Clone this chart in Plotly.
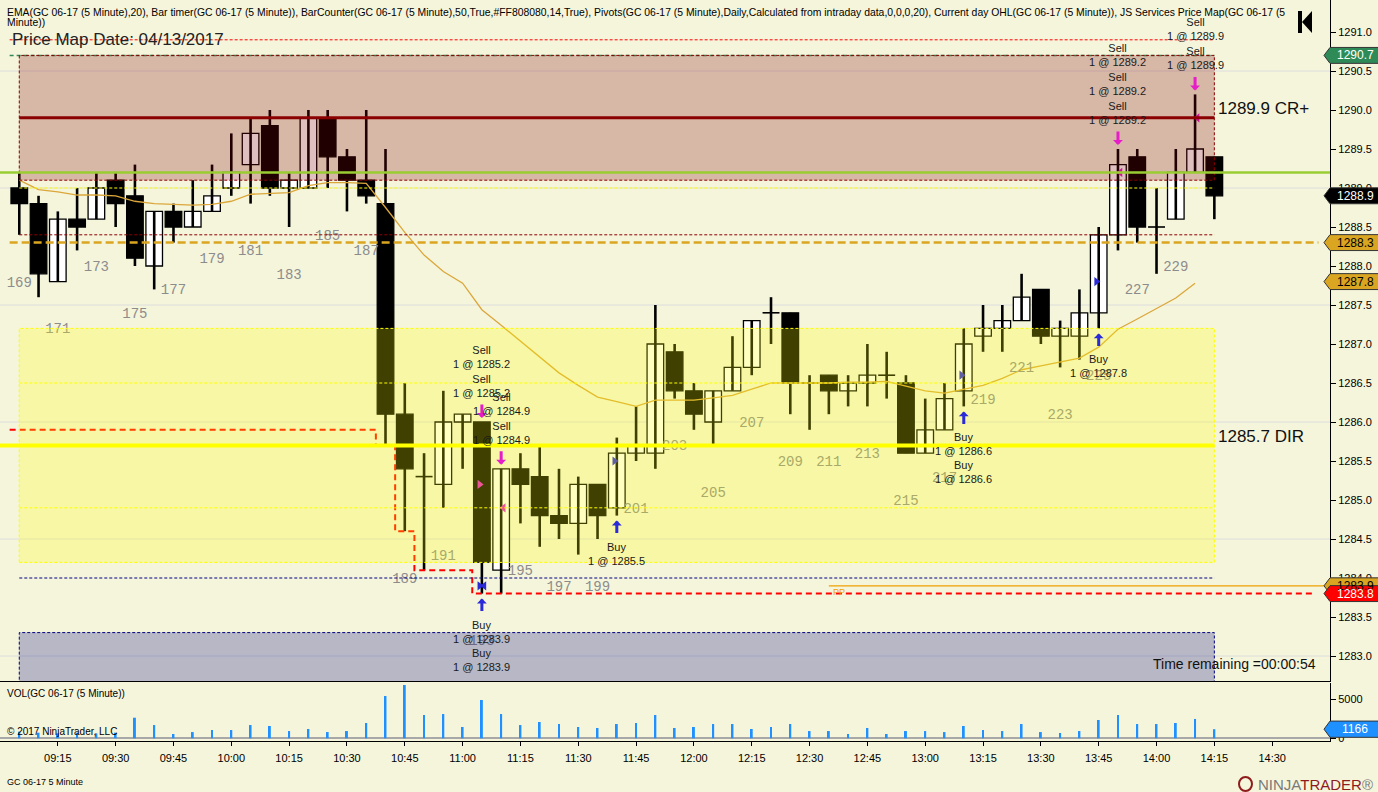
import plotly.graph_objects as go
from datetime import datetime, timedelta

# ---------------- data ----------------
first_bar_time = datetime(2017, 4, 13, 9, 5)
first_bar_number = 169
bar_minutes = 5

opens = [1289.0, 1288.8, 1287.8, 1288.6, 1288.6, 1289.1, 1288.9, 1288.0, 1288.7, 1288.5,
         1288.7, 1289.0, 1289.3, 1289.8, 1289.0, 1289.0, 1289.9, 1289.4, 1289.1, 1288.8,
         1286.1, 1285.3, 1285.2, 1286.0, 1286.0, 1284.1, 1285.4, 1285.3, 1284.8, 1284.7,
         1285.2, 1284.9, 1285.6, 1285.6, 1286.9, 1286.4, 1286.0, 1286.4, 1286.7, 1287.4,
         1287.4, 1286.5, 1286.6, 1286.4, 1286.5, 1286.6, 1286.5, 1285.6, 1285.9, 1286.4,
         1287.1, 1287.2, 1287.3, 1287.7, 1287.1, 1287.1, 1287.4, 1288.4, 1289.4, 1288.5,
         1288.6, 1289.2, 1289.4]
highs = [1289.2, 1288.9, 1288.7, 1289.0, 1289.2, 1289.2, 1289.3, 1288.7, 1288.8, 1289.1,
         1289.3, 1289.7, 1289.9, 1290.0, 1289.2, 1290.0, 1290.0, 1289.5, 1290.0, 1289.5,
         1286.5, 1285.6, 1286.4, 1286.1, 1286.0, 1285.4, 1285.6, 1285.7, 1285.4, 1285.3,
         1285.2, 1285.8, 1286.2, 1287.5, 1287.0, 1286.5, 1286.4, 1287.1, 1287.3, 1287.6,
         1287.4, 1286.6, 1286.6, 1286.6, 1287.0, 1286.9, 1286.6, 1286.3, 1286.5, 1287.2,
         1287.5, 1287.5, 1287.9, 1287.7, 1287.3, 1287.7, 1288.5, 1289.5, 1289.5, 1289.0,
         1289.5, 1290.2, 1289.4]
lows = [1288.4, 1287.6, 1287.8, 1288.2, 1288.6, 1288.5, 1288.0, 1287.7, 1288.3, 1288.5,
        1288.7, 1288.9, 1288.8, 1288.9, 1288.5, 1289.0, 1289.0, 1288.7, 1288.8, 1285.7,
        1284.6, 1284.1, 1284.9, 1285.4, 1283.8, 1283.8, 1284.7, 1284.4, 1284.5, 1284.3,
        1284.5, 1284.8, 1285.5, 1285.4, 1286.3, 1285.9, 1285.7, 1286.4, 1286.6, 1287.0,
        1286.1, 1285.9, 1286.1, 1286.2, 1286.2, 1286.3, 1285.6, 1285.6, 1285.9, 1286.2,
        1286.9, 1286.9, 1287.3, 1287.0, 1286.7, 1286.8, 1287.2, 1288.2, 1288.3, 1287.9,
        1288.6, 1289.2, 1288.6]
closes = [1288.8, 1287.9, 1288.6, 1288.5, 1289.0, 1288.8, 1288.1, 1288.7, 1288.5, 1288.7,
          1288.9, 1289.2, 1289.7, 1289.0, 1289.1, 1289.9, 1289.4, 1289.1, 1288.9, 1286.1,
          1285.4, 1285.3, 1286.0, 1286.1, 1284.2, 1285.4, 1285.2, 1284.8, 1284.7, 1285.2,
          1284.8, 1285.6, 1285.7, 1287.0, 1286.4, 1286.1, 1286.4, 1286.7, 1287.3, 1287.4,
          1286.5, 1286.5, 1286.4, 1286.5, 1286.6, 1286.6, 1285.6, 1285.9, 1286.3, 1287.0,
          1287.2, 1287.3, 1287.6, 1287.1, 1287.2, 1287.4, 1288.4, 1289.3, 1288.5, 1288.5,
          1289.2, 1289.5, 1288.9]
volumes = [850, 720, 640, 720, 640, 720, 2640, 1700, 550, 800,
           1060, 1060, 1700, 1580, 930, 1190, 800, 930, 1960, 5420,
           6830, 2990, 3110, 1450, 4910, 3110, 1700, 2090, 1830, 1450,
           1320, 1830, 1960, 2990, 1320, 1450, 1830, 1830, 1190, 1450,
           1830, 930, 930, 550, 1320, 550, 930, 930, 800, 1580,
           1060, 930, 1830, 800, 680, 930, 2350, 2990, 1830, 1830,
           1960, 2480, 1166]
ema20 = [1289.10, 1288.98, 1288.95, 1288.91, 1288.91, 1288.90, 1288.83, 1288.80, 1288.79, 1288.78,
         1288.79, 1288.83, 1288.92, 1288.93, 1288.94, 1289.03, 1289.07, 1289.07, 1289.06, 1288.75,
         1288.43, 1288.14, 1287.93, 1287.78, 1287.44, 1287.24, 1287.04, 1286.83, 1286.63, 1286.47,
         1286.32, 1286.26, 1286.20, 1286.28, 1286.28, 1286.28, 1286.31, 1286.34, 1286.42, 1286.50,
         1286.50, 1286.50, 1286.50, 1286.51, 1286.51, 1286.52, 1286.46, 1286.40, 1286.37, 1286.42,
         1286.47, 1286.56, 1286.67, 1286.72, 1286.77, 1286.82, 1286.96, 1287.19, 1287.32, 1287.45,
         1287.59, 1287.78]

prior_session_low = 1285.9
day_open = 1288.3
pivot_pp = 1283.9

# price-map zones (low, high)
zone_cr = [1289.1, 1290.7]
zone_dir = [1284.2, 1287.2]
zone_low = [1282.2, 1283.3]
level_cr = 1289.9
level_dir = 1285.7
level_green = 1289.2
level_high_mark = 1290.7
level_red_top = 1290.9
level_maroon = 1288.4
level_yellow_sub = [1289.0, 1286.5, 1284.9]
level_navy = 1284.0

# executions: bar number, price, side, marker direction
exec_bars = [193, 194, 193, 193, 200, 218, 225, 226, 230]
exec_prices = [1285.2, 1284.9, 1283.9, 1283.9, 1285.5, 1286.6, 1287.8, 1289.2, 1289.9]
exec_sides = ["sell", "sell", "buy", "buy", "buy", "buy", "buy", "sell", "sell"]
exec_dirs = ["right", "left", "right", "left", "right", "right", "right", "left", "left"]
# order text blocks: bar number, side, price, count
order_bars = [193, 194, 226, 230, 193, 200, 218, 225]
order_sides = ["Sell", "Sell", "Sell", "Sell", "Buy", "Buy", "Buy", "Buy"]
order_prices = [1285.2, 1284.9, 1289.2, 1289.9, 1283.9, 1285.5, 1286.6, 1287.8]
order_counts = [2, 2, 3, 2, 2, 1, 2, 1]

price_ticks = [1283.0 + 0.5 * i for i in range(17)]
grid_levels = [1283.0, 1284.5, 1286.0, 1287.5, 1289.0, 1290.5]
vol_ticks = [0, 5000]
time_tick_labels = ["09:15", "09:30", "09:45", "10:00", "10:15", "10:30", "10:45", "11:00",
                    "11:15", "11:30", "11:45", "12:00", "12:15", "12:30", "12:45", "13:00",
                    "13:15", "13:30", "13:45", "14:00", "14:15", "14:30"]

# right-axis value flags: value, fill, text colour
price_flags = [(1290.7, "#2e8b57", "white"), (1288.9, "#000000", "white"),
               (1288.3, "#daa520", "black"), (1287.8, "#daa520", "black"),
               (1283.9, "#daa520", "black"), (1283.8, "#ff0000", "white")]
vol_flag = 1166

# ---------------- styling / layout constants ----------------
BG = "#f5f5dc"
FONT = "Arial, Liberation Sans, sans-serif"
MAGENTA = "#e61ec8"
BLUE = "#2a2ad8"
W, H = 1378, 792
PLOT_W, PLOT_H = 1330, 741
MAIN_DOMAIN = [1 - 681 / PLOT_H, 1]
VOL_DOMAIN = [0, 58 / PLOT_H]
Y_RANGE = [1291 - 649 / 78, 1291 + 32 / 78]
V_RANGE = [-346, 7090]
X_RANGE = [datetime(2017, 4, 13, 9, 0), datetime(2017, 4, 13, 14, 45)]
LABEL_GAP = 0.62

n = len(opens)
times = [first_bar_time + timedelta(minutes=bar_minutes * i) for i in range(n)]
bar_num = [first_bar_number + i for i in range(n)]
half = timedelta(minutes=bar_minutes / 2)
MS_MIN = 60000


def t_of(bn):
    return times[bn - first_bar_number]


def px(xp):
    return xp / PLOT_W


def py(yp):
    return 1 - yp / PLOT_H


fig = go.Figure()

# wicks
wx, wy = [], []
for t, h, l in zip(times, highs, lows):
    wx += [t, t, None]
    wy += [h, l, None]
fig.add_trace(go.Scatter(x=wx, y=wy, mode="lines", line=dict(color="black", width=2.6),
                         hoverinfo="skip", showlegend=False))

# bodies
bt, bb, bh, bc = [], [], [], []
for t, o, c in zip(times, opens, closes):
    if o == c:
        continue
    bt.append(t)
    bb.append(min(o, c))
    bh.append(abs(c - o))
    bc.append("white" if c > o else "black")
fig.add_trace(go.Bar(x=bt, y=bh, base=bb, width=4.3 * MS_MIN, marker=dict(color=bc, line=dict(color="black", width=1.3)),
                     hoverinfo="skip", showlegend=False))

# doji ticks
dx, dy = [], []
for t, o, c in zip(times, opens, closes):
    if o == c:
        dx += [t - timedelta(minutes=2.2), t + timedelta(minutes=2.2), None]
        dy += [o, o, None]
fig.add_trace(go.Scatter(x=dx, y=dy, mode="lines", line=dict(color="black", width=1.6),
                         hoverinfo="skip", showlegend=False))

# EMA
fig.add_trace(go.Scatter(x=times[:len(ema20)], y=ema20, mode="lines",
                         line=dict(color="#dba73a", width=1.3), hoverinfo="skip", showlegend=False))

# running day low (step line)
lx, ly = [], []
run = prior_session_low
for t, l in zip(times, lows):
    run = min(run, l)
    lx += [t - half, t + half]
    ly += [run, run]
lx.append(datetime(2017, 4, 13, 14, 41))
ly.append(run)
ly[0] = prior_session_low
fig.add_trace(go.Scatter(x=lx, y=ly, mode="lines", line=dict(color="#ff0000", width=2, dash="6px,4px"),
                         hoverinfo="skip", showlegend=False))

# bar counter labels (odd bars, the bar still in progress is not counted)
odd = [i for i in range(n - 1) if bar_num[i] % 2 == 1]
fig.add_trace(go.Scatter(x=[times[i] for i in odd], y=[lows[i] - LABEL_GAP for i in odd],
                         text=[str(bar_num[i]) for i in odd], mode="text",
                         textfont=dict(family="Liberation Mono, Courier New, monospace", size=14, color="#8c8c8c"),
                         hoverinfo="skip", showlegend=False))

# execution triangles
for side, color in (("sell", MAGENTA), ("buy", BLUE)):
    for d in ("right", "left"):
        idx = [i for i in range(len(exec_bars)) if exec_sides[i] == side and exec_dirs[i] == d]
        if not idx:
            continue
        off = timedelta(minutes=-0.6 if d == "right" else 0.6)
        fig.add_trace(go.Scatter(x=[t_of(exec_bars[i]) + off for i in idx], y=[exec_prices[i] for i in idx],
                                 mode="markers", marker=dict(symbol="triangle-" + d, size=8, color=color),
                                 hoverinfo="skip", showlegend=False))

# volume
fig.add_trace(go.Bar(x=times, y=volumes, width=0.5 * MS_MIN, marker=dict(color="#1e90ff", line=dict(width=0)),
                     xaxis="x2", yaxis="y2", hoverinfo="skip", showlegend=False))

shapes = []
# grid
for g in grid_levels:
    shapes.append(dict(type="line", xref="paper", x0=0, x1=1, yref="y", y0=g, y1=g,
                       line=dict(color="#dcdcdc", width=1), layer="below"))


def hline(y, color, width, dash=None, x0=None, x1=None, xref="x", layer="above"):
    shapes.append(dict(type="line", xref=xref, yref="y", x0=x0, x1=x1, y0=y, y1=y,
                       line=dict(color=color, width=width, dash=dash) if dash else dict(color=color, width=width),
                       layer=layer))


hline(level_high_mark, "#2e8b57", 1.5, "4px,3px", times[0] - half, times[-1], layer="below")

# zones
for (z0, z1), fill, edge in ((zone_cr, "rgba(128,0,0,0.25)", "#8b0000"),
                             (zone_dir, "rgba(255,255,0,0.25)", "#ffff00"),
                             (zone_low, "rgba(0,0,128,0.25)", "#000080")):
    shapes.append(dict(type="rect", xref="x", yref="y", x0=times[0], x1=times[-1], y0=z0, y1=z1,
                       fillcolor=fill, line=dict(color=edge, width=1, dash="3px,2px"), layer="above"))

hline(level_red_top, "#ff0000", 1, "3px,2px", times[0] - half, times[-1])
for lv in level_yellow_sub:
    hline(lv, "#ffff00", 1, "3px,2px", times[0], times[-1])
hline(level_maroon, "#8b0000", 1, "3px,2px", times[0], times[-1])
hline(level_navy, "#000080", 1, "3px,2px", times[0], times[-1])
hline(day_open, "#daa520", 2.5, "8px,4px", times[0] - half, datetime(2017, 4, 13, 14, 42))
hline(pivot_pp, "#f0a000", 1.2, None, datetime(2017, 4, 13, 12, 35), X_RANGE[1])
hline(level_cr, "#8b0000", 3, None, times[0], times[-1])
hline(level_dir, "#ffff00", 4, None, X_RANGE[0], times[-1])
hline(level_green, "#9acd32", 2.5, None, 0, 1, xref="paper")

# right-axis flags
LH = 0.102
for v, fill, tc in price_flags:
    path = (f"M {px(1324)},{v} L {px(1330)},{v + LH} L {px(1380)},{v + LH} "
            f"L {px(1380)},{v - LH} L {px(1330)},{v - LH} Z")
    shapes.append(dict(type="path", xref="paper", yref="y", path=path, fillcolor=fill,
                       line=dict(color="#333333", width=1), layer="above"))
VH = 1040
path = (f"M {px(1324)},{vol_flag} L {px(1330)},{vol_flag + VH} L {px(1380)},{vol_flag + VH} "
        f"L {px(1380)},{vol_flag - VH} L {px(1330)},{vol_flag - VH} Z")
shapes.append(dict(type="path", xref="paper", yref="y2", path=path, fillcolor="#1e90ff",
                   line=dict(color="#333333", width=1), layer="above"))

# top-right icon
shapes.append(dict(type="rect", xref="paper", yref="paper", x0=px(1298), x1=px(1302), y0=py(33), y1=py(11),
                   fillcolor="black", line=dict(width=0)))
shapes.append(dict(type="path", xref="paper", yref="paper",
                   path=f"M {px(1302)},{py(22)} L {px(1312)},{py(11)} L {px(1312)},{py(33)} Z",
                   fillcolor="black", line=dict(width=0)))
# logo mark
shapes.append(dict(type="circle", xref="paper", yref="paper", x0=px(1239), x1=px(1252), y0=py(791), y1=py(777),
                   fillcolor="rgba(0,0,0,0)", line=dict(color="#8e1c1c", width=2)))

ann = []


def text(x, y, s, size=11, color="#000000", xanchor="left", yanchor="middle", xref="paper", yref="paper", **kw):
    ann.append(dict(x=x, y=y, xref=xref, yref=yref, text=s, showarrow=False, xanchor=xanchor, yanchor=yanchor,
                    font=dict(family=FONT, size=size, color=color), **kw))


text(px(5), py(12), "EMA(GC 06-17 (5 Minute),20), Bar timer(GC 06-17 (5 Minute)), BarCounter(GC 06-17 (5 Minute),50,True,#FF808080,14,True), "
     "Pivots(GC 06-17 (5 Minute),Daily,Calculated from intraday data,0,0,0,20), Current day OHL(GC 06-17 (5 Minute)), JS Services Price Map(GC 06-17 (5", 10.4)
text(px(5), py(23), "Minute))", 10.4)
text(px(10), py(40), "Price Map Date: 04/13/2017", 17, "#222222")
text(times[-1], level_cr, "1289.9 CR+", 17, "#111111", xref="x", yref="y", xshift=2, yshift=9)
text(times[-1], level_dir, "1285.7 DIR", 17, "#111111", xref="x", yref="y", xshift=2, yshift=9)
text(px(1318), py(664), "Time remaining =00:00:54", 14, "#111111", xanchor="right")
text(px(5), py(693), "VOL(GC 06-17 (5 Minute))", 10)
text(px(5), py(731), "© 2017 NinjaTrader, LLC", 10)
text(px(5), py(782), "GC 06-17 5 Minute", 9)
text(px(1375), py(784), '<span style="color:#7a7a7a">NINJA</span><span style="color:#8e1c1c">TRADER</span>®', 15,
     "#7a7a7a", xanchor="right")
text(datetime(2017, 4, 13, 12, 35), pivot_pp, "PP", 9, "#f0a000", xref="x", yref="y", xshift=2, yshift=-6)

for v, fill, tc in price_flags:
    text(px(1355), v, f"{v:.1f}", 12, tc, xanchor="center", yref="y")
text(px(1355), vol_flag, str(vol_flag), 12, "white", xanchor="center", yref="y2")

# order arrows and texts
for bnum, side, price, cnt in zip(order_bars, order_sides, order_prices, order_counts):
    i = bnum - first_bar_number
    t = times[i]
    if side == "Sell":
        ann.append(dict(x=t, y=highs[i], xref="x", yref="y", text="", showarrow=True, ax=0, ay=-19,
                        arrowhead=1, arrowsize=0.55, arrowwidth=3, arrowcolor=MAGENTA, standoff=4))
        for k in range(cnt):
            text(t, highs[i], f"Sell<br>1 @ {price:.1f}", 11, "#1a1a1a", xanchor="center", xref="x", yref="y",
                 yshift=36 + 29 * k)
    else:
        ann.append(dict(x=t, y=lows[i], xref="x", yref="y", text="", showarrow=True, ax=0, ay=19,
                        arrowhead=1, arrowsize=0.55, arrowwidth=3, arrowcolor=BLUE, standoff=5))
        for k in range(cnt):
            text(t, lows[i], f"Buy<br>1 @ {price:.1f}", 11, "#1a1a1a", xanchor="center", xref="x", yref="y",
                 yshift=-(38 + 28 * k))

fig.update_layout(
    width=W, height=H, margin=dict(l=0, r=W - PLOT_W, t=0, b=H - PLOT_H),
    paper_bgcolor=BG, plot_bgcolor=BG, barmode="overlay", showlegend=False,
    font=dict(family=FONT, size=11, color="black"),
    shapes=shapes, annotations=ann,
    xaxis=dict(domain=[0, 1], anchor="y", range=X_RANGE, type="date", showgrid=False, zeroline=False,
               showticklabels=False, ticks="", showline=True, linecolor="black", linewidth=1),
    yaxis=dict(domain=MAIN_DOMAIN, anchor="x", side="right", range=Y_RANGE, showgrid=False, zeroline=False,
               tickvals=price_ticks, ticktext=[f"{v:.1f}" for v in price_ticks], ticks="outside", ticklen=5,
               tickcolor="black", showline=True, linecolor="black", linewidth=1,
               tickfont=dict(family=FONT, size=11, color="black")),
    xaxis2=dict(domain=[0, 1], anchor="y2", range=X_RANGE, type="date", showgrid=False, zeroline=False,
                tickvals=[datetime(2017, 4, 13, int(s[:2]), int(s[3:])) for s in time_tick_labels],
                ticktext=time_tick_labels, ticks="outside", ticklen=4, tickcolor="black",
                showline=True, linecolor="black", linewidth=1, ticklabelstandoff=3,
                tickfont=dict(family=FONT, size=11, color="black")),
    yaxis2=dict(domain=VOL_DOMAIN, anchor="x2", side="right", range=V_RANGE, showgrid=False,
                zeroline=True, zerolinecolor="#a8a8a8", zerolinewidth=2,
                tickvals=vol_ticks, ticktext=[str(v) for v in vol_ticks], ticks="outside", ticklen=5,
                tickcolor="black", showline=True, linecolor="black", linewidth=1,
                tickfont=dict(family=FONT, size=11, color="black")),
)

fig.write_html("out.html", config={"displayModeBar": False},
               post_script="document.body.style.margin='0px';document.body.style.overflow='hidden';")
